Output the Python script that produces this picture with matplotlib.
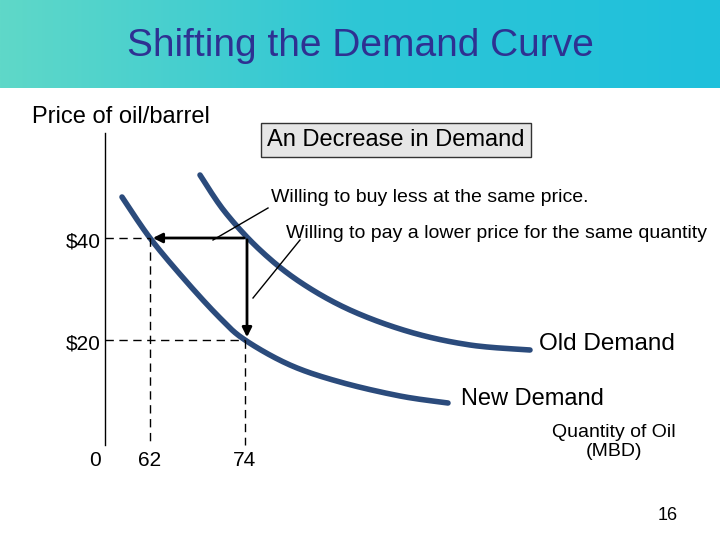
import matplotlib
matplotlib.use("Agg")
import matplotlib.pyplot as plt
import numpy as np

old_x = [200, 225, 260, 300, 350, 410, 470, 530]
old_y = [175, 212, 250, 282, 310, 332, 345, 350]
new_x = [122, 150, 185, 220, 245, 290, 340, 400, 448]
new_y = [197, 238, 280, 318, 340, 365, 382, 396, 403]
price_labels = ["$40", "$20"]
price_y = [238, 340]
qty_labels = ["0", "62", "74"]
qty_x = [95, 150, 245]


def smooth(xs, ys, n=20):
    p = np.column_stack([xs, ys]).astype(float)
    p = np.vstack([p[0], p, p[-1]])
    out = []
    for i in range(1, len(p) - 2):
        p0, p1, p2, p3 = p[i - 1], p[i], p[i + 1], p[i + 2]
        for t in np.linspace(0, 1, n, endpoint=False):
            out.append(0.5 * ((2 * p1) + (-p0 + p2) * t + (2 * p0 - 5 * p1 + 4 * p2 - p3) * t**2
                              + (-p0 + 3 * p1 - 3 * p2 + p3) * t**3))
    out.append(p[-2])
    out = np.array(out)
    return out[:, 0], out[:, 1]


fig = plt.figure(figsize=(7.2, 5.4), dpi=100)
ax = fig.add_axes([0, 0, 1, 1])
ax.set_xlim(0, 720); ax.set_ylim(540, 0); ax.axis("off")

grad = np.linspace(0, 1, 256).reshape(1, -1)
from matplotlib.colors import LinearSegmentedColormap
cm = LinearSegmentedColormap.from_list("b", ["#5fd8c8", "#2ec6d6", "#1fc0dc"])
ax.imshow(grad, extent=[0, 720, 88, 0], cmap=cm, aspect="auto", zorder=0)
F = "Liberation Sans"
ax.text(360, 46, "Shifting the Demand Curve", ha="center", va="center",
        fontsize=28, color="#2e3192", family=F)

ax.text(32, 117, "Price of oil/barrel", fontsize=17, va="center", family=F)
ax.text(396, 140, "An Decrease in Demand", fontsize=17, ha="center", va="center", family=F,
        bbox=dict(boxstyle="square,pad=0.25", fc="#e6e6e6", ec="#333333", lw=1))
ax.text(430, 198, "Willing to buy less at the same price.", fontsize=14, ha="center", va="center", family=F)
ax.text(497, 234, "Willing to pay a lower price for the same quantity", fontsize=14, ha="center", va="center", family=F)
ax.text(675, 344, "Old Demand", fontsize=17.5, ha="right", va="center", family=F)
ax.text(604, 399, "New Demand", fontsize=17, ha="right", va="center", family=F)
ax.text(614, 442, "Quantity of Oil\n(MBD)", fontsize=14, ha="center", va="center", family=F)
ax.text(668, 515, "16", fontsize=13, ha="center", va="center", family=F)

for lab, y in zip(price_labels, price_y):
    ax.text(66, y + 4, lab, fontsize=15, va="center", family=F)
for lab, x in zip(qty_labels, qty_x):
    ax.text(x, 460, lab, fontsize=15, ha="center", va="center", family=F)

ax.plot([105, 105], [133, 445], color="black", lw=1)
ax.plot(*smooth(old_x, old_y), color="#2b4b7c", lw=4, solid_capstyle="round")
ax.plot(*smooth(new_x, new_y), color="#2b4b7c", lw=4, solid_capstyle="round")

dash = dict(color="black", lw=1, ls=(0, (6, 4)))
ax.plot([105, 150], [238, 238], **dash)
ax.plot([105, 245], [340, 340], **dash)
ax.plot([150, 150], [238, 445], **dash)
ax.plot([245, 245], [340, 445], **dash)

ax.annotate("", xy=(150, 238), xytext=(247, 238),
            arrowprops=dict(arrowstyle="-|>", color="black", lw=2, mutation_scale=14))
ax.annotate("", xy=(247, 340), xytext=(247, 237),
            arrowprops=dict(arrowstyle="-|>", color="black", lw=2, mutation_scale=14))
ax.plot([268, 213], [208, 240], color="black", lw=1)
ax.plot([300, 253], [240, 298], color="black", lw=1)

fig.savefig("out.png", dpi=100)
